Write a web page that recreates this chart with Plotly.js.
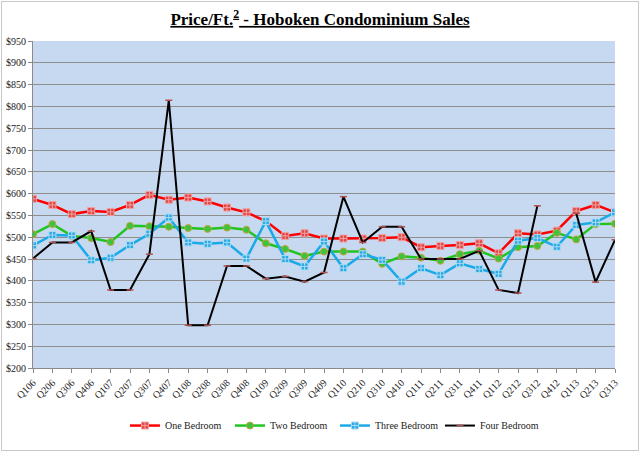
<!DOCTYPE html>
<html>
<head>
<meta charset="utf-8">
<script src="https://cdn.plot.ly/plotly-3.0.1.min.js"></script>
<style>
  body { margin: 0; background: #fff; }
  #chart { width: 640px; height: 452px; }
  #frame { position: absolute; left: 1px; top: 1px; width: 636px; height: 448px; border: 1px solid #c8c8c8; pointer-events: none; }
</style>
</head>
<body>
<div id="chart"></div>
<div id="frame"></div>
<script>
// Trimestres Q1 2006 .. Q3 2013
const quarters = ['Q106','Q206','Q306','Q406','Q107','Q207','Q307','Q407','Q108','Q208','Q308','Q408',
  'Q109','Q209','Q309','Q409','Q110','Q210','Q310','Q410','Q111','Q211','Q311','Q411',
  'Q112','Q212','Q312','Q412','Q113','Q213','Q313'];

// Prix moyen au pied carré
const oneBedroom = [588,574,553,560,558,574,597,586,591,582,568,557,537,503,509,497,497,497,498,500,477,480,482,486,463,509,506,515,560,574,557];
const twoBedroom = [507,530,503,498,489,526,525,524,521,519,522,517,486,473,457,467,467,467,439,456,453,446,461,469,451,477,480,510,495,530,531];
const threeBedroom = [481,505,504,447,453,482,508,545,488,485,488,451,537,450,433,490,429,461,448,398,429,413,440,427,416,492,498,478,528,534,557];
const fourBedroom = [451,488,488,514,379,379,461,814,298,298,434,434,405,410,398,419,593,488,524,524,450,450,450,469,379,372,572,null,555,397,494];

const yTicks = [200,250,300,350,400,450,500,550,600,650,700,750,800,850,900,950];

const serif = '"Liberation Serif", "Times New Roman", serif';

const data = [
  {
    name: 'One Bedroom', x: quarters, y: oneBedroom, type: 'scatter', mode: 'lines+markers',
    line: { color: '#ff0000', width: 2.5 },
    marker: { symbol: 'square-cross', size: 7, color: '#e04848', line: { color: '#f4a0a0', width: 1 } }
  },
  {
    name: 'Two Bedroom', x: quarters, y: twoBedroom, type: 'scatter', mode: 'lines+markers',
    line: { color: '#22c422', width: 2.5 },
    marker: { symbol: 'circle', size: 7, color: '#3cc43c', line: { color: '#c8a040', width: 1 } }
  },
  {
    name: 'Three Bedroom', x: quarters, y: threeBedroom, type: 'scatter', mode: 'lines+markers',
    line: { color: '#1aaae8', width: 2.5 },
    marker: { symbol: 'square-cross', size: 7, color: '#2ca8e4', line: { color: '#a8dcf4', width: 1 } }
  },
  {
    name: 'Four Bedroom', x: quarters, y: fourBedroom, type: 'scatter', mode: 'lines+markers',
    connectgaps: false,
    line: { color: '#000000', width: 2 },
    marker: { symbol: 'line-ew', size: 5, color: '#b05050', line: { color: '#b05050', width: 1.5 } }
  }
];

const layout = {
  width: 640,
  height: 452,
  margin: { l: 33, r: 25, t: 41, b: 84 },
  paper_bgcolor: '#ffffff',
  plot_bgcolor: '#c6d9f1',
  font: { family: serif, size: 10, color: '#222' },
  title: {
    text: '<b><u>Price/Ft.<sup>2</sup> - Hoboken Condominium Sales</u></b>',
    x: 0.5, xanchor: 'center', y: 0.958, yanchor: 'middle',
    font: { family: serif, size: 17, color: '#000' }
  },
  xaxis: {
    type: 'category',
    range: [0, 30],
    tickangle: -45,
    ticks: 'outside', ticklen: 4, tickcolor: '#8a8a8a',
    showline: true, linecolor: '#8a8a8a', linewidth: 1,
    showgrid: false,
    tickfont: { family: serif, size: 10, color: '#222' }
  },
  yaxis: {
    range: [200, 950],
    tickvals: yTicks,
    ticktext: yTicks.map(v => '$' + v),
    ticks: 'outside', ticklen: 4, tickcolor: '#8a8a8a',
    showline: true, linecolor: '#8a8a8a', linewidth: 1,
    showgrid: true, gridcolor: '#8e8e8e', gridwidth: 1,
    zeroline: false,
    tickfont: { family: serif, size: 10, color: '#222' }
  },
  showlegend: true,
  legend: {
    orientation: 'h',
    x: 0.158, xanchor: 'left',
    y: -0.176, yanchor: 'middle',
    entrywidth: 60, entrywidthmode: 'pixels',
    font: { family: serif, size: 10, color: '#222' },
    bgcolor: 'rgba(0,0,0,0)'
  }
};

Plotly.newPlot('chart', data, layout, { displayModeBar: false, staticPlot: true });
</script>
</body>
</html>
